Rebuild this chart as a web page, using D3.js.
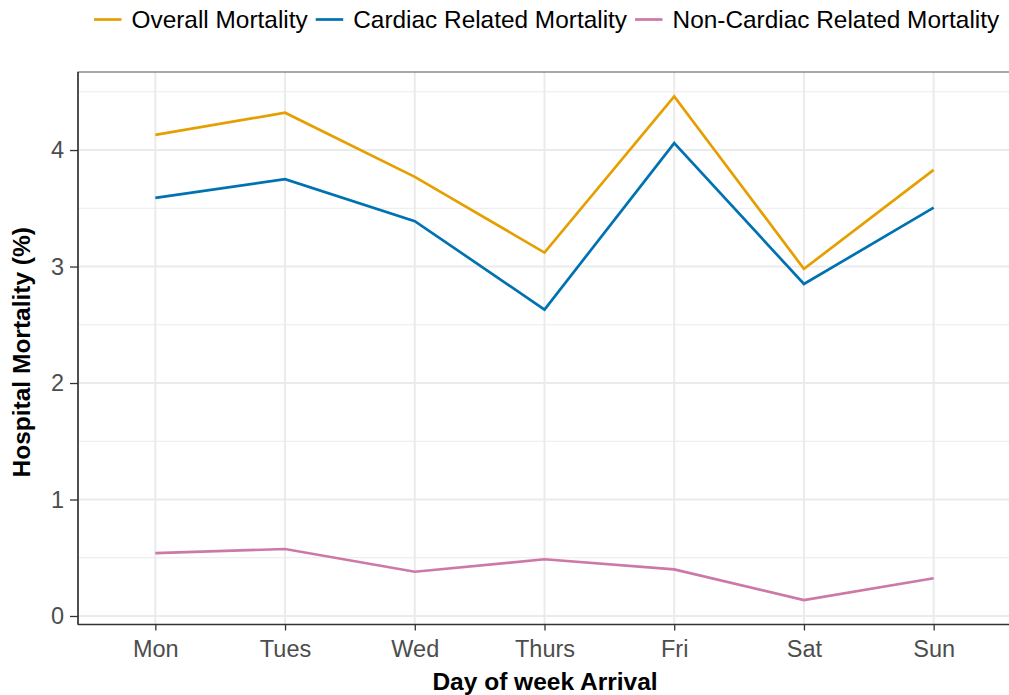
<!DOCTYPE html>
<html>
<head>
<meta charset="utf-8">
<script src="https://cdn.jsdelivr.net/npm/d3@7"></script>
<style>
  body { margin: 0; background: #fff; overflow: hidden; }
  text { font-family: "Liberation Sans", Arial, sans-serif; }
</style>
</head>
<body>
<div id="chart"></div>
<script>
const days = ['Mon', 'Tues', 'Wed', 'Thurs', 'Fri', 'Sat', 'Sun']
const overall = [4.13, 4.32, 3.77, 3.12, 4.46, 2.98, 3.83]
const cardiac = [3.59, 3.75, 3.39, 2.63, 4.06, 2.85, 3.505]
const nonCardiac = [0.54, 0.575, 0.38, 0.487, 0.40, 0.137, 0.324]
const seriesNames = ['Overall Mortality', 'Cardiac Related Mortality', 'Non-Cardiac Related Mortality']
const seriesColors = ['#E69F00', '#0072B2', '#CC79A7']
const yTicks = [0, 1, 2, 3, 4]
const yMinor = [0.5, 1.5, 2.5, 3.5, 4.5]

const W = 1009, H = 695
// panel runs a little past the right edge of the picture, as in the original
const panel = { left: 78, right: 1014, top: 72, bottom: 624.5 }

const svg = d3.select('#chart').append('svg')
  .attr('width', W)
  .attr('height', H)

const x = d3.scalePoint()
  .domain(days)
  .range([77.5, 1011.5])
  .padding(0.6)

const y = d3.scaleLinear()
  .domain([-0.073, 4.67])
  .range([panel.bottom, panel.top])

// grid
const grid = svg.append('g')
grid.selectAll('.minor').data(yMinor).join('line')
  .attr('x1', panel.left).attr('x2', panel.right)
  .attr('y1', d => y(d)).attr('y2', d => y(d))
  .attr('stroke', '#EBEBEB').attr('stroke-width', 1)
grid.selectAll('.major').data(yTicks).join('line')
  .attr('x1', panel.left).attr('x2', panel.right)
  .attr('y1', d => y(d)).attr('y2', d => y(d))
  .attr('stroke', '#EBEBEB').attr('stroke-width', 2)
grid.selectAll('.vmajor').data(days).join('line')
  .attr('x1', d => x(d)).attr('x2', d => x(d))
  .attr('y1', panel.top).attr('y2', panel.bottom)
  .attr('stroke', '#EBEBEB').attr('stroke-width', 2)

// panel border
svg.append('rect')
  .attr('x', panel.left).attr('y', panel.top)
  .attr('width', panel.right - panel.left).attr('height', panel.bottom - panel.top)
  .attr('fill', 'none').attr('stroke', '#555').attr('stroke-width', 1)

// lines
const series = [overall, cardiac, nonCardiac]
const line = d3.line()
  .x((d, i) => x(days[i]))
  .y(d => y(d))

svg.append('g').selectAll('path').data(series).join('path')
  .attr('d', d => line(d))
  .attr('fill', 'none')
  .attr('stroke', (d, i) => seriesColors[i])
  .attr('stroke-width', 2.7)
  .attr('stroke-linejoin', 'miter')

// axes
const yAxis = svg.append('g')
  .attr('transform', `translate(${panel.left},0)`)
  .call(d3.axisLeft(y).tickValues(yTicks).tickSize(8).tickPadding(6).tickFormat(d3.format('d')))
const xAxis = svg.append('g')
  .attr('transform', `translate(0,${panel.bottom})`)
  .call(d3.axisBottom(x).tickSize(6).tickPadding(10))

for (const ax of [xAxis, yAxis]) {
  ax.select('.domain').remove()
  ax.selectAll('line').attr('stroke', '#333').attr('stroke-width', 1.3)
  ax.selectAll('text')
    .attr('fill', '#4D4D4D')
    .style('font-size', '23.5px')
    .style('font-family', '"Liberation Sans", Arial, sans-serif')
}

svg.append('line')
  .attr('x1', panel.left).attr('x2', panel.left)
  .attr('y1', panel.top).attr('y2', panel.bottom)
  .attr('stroke', '#333').attr('stroke-width', 1.5)
svg.append('line')
  .attr('x1', panel.left).attr('x2', panel.right)
  .attr('y1', panel.bottom).attr('y2', panel.bottom)
  .attr('stroke', '#333').attr('stroke-width', 1.5)

// axis titles
svg.append('text')
  .attr('x', 545)
  .attr('y', 690)
  .attr('text-anchor', 'middle')
  .style('font-size', '24.5px')
  .style('font-weight', 'bold')
  .text('Day of week Arrival')

svg.append('text')
  .attr('transform', `translate(30,${(panel.top + panel.bottom) / 2 + 4}) rotate(-90)`)
  .attr('text-anchor', 'middle')
  .style('font-size', '24.5px')
  .style('font-weight', 'bold')
  .text('Hospital Mortality (%)')

// legend
const legend = svg.append('g')
let lx = 94
seriesNames.forEach((name, i) => {
  legend.append('line')
    .attr('x1', lx).attr('x2', lx + 27.5)
    .attr('y1', 19.5).attr('y2', 19.5)
    .attr('stroke', seriesColors[i]).attr('stroke-width', 2.7)
  const t = legend.append('text')
    .attr('x', lx + 37.5)
    .attr('y', 28.3)
    .style('font-size', '24.4px')
    .attr('fill', '#000')
    .text(name)
  lx += 37.5 + t.node().getComputedTextLength() + 8
})
</script>
</body>
</html>
